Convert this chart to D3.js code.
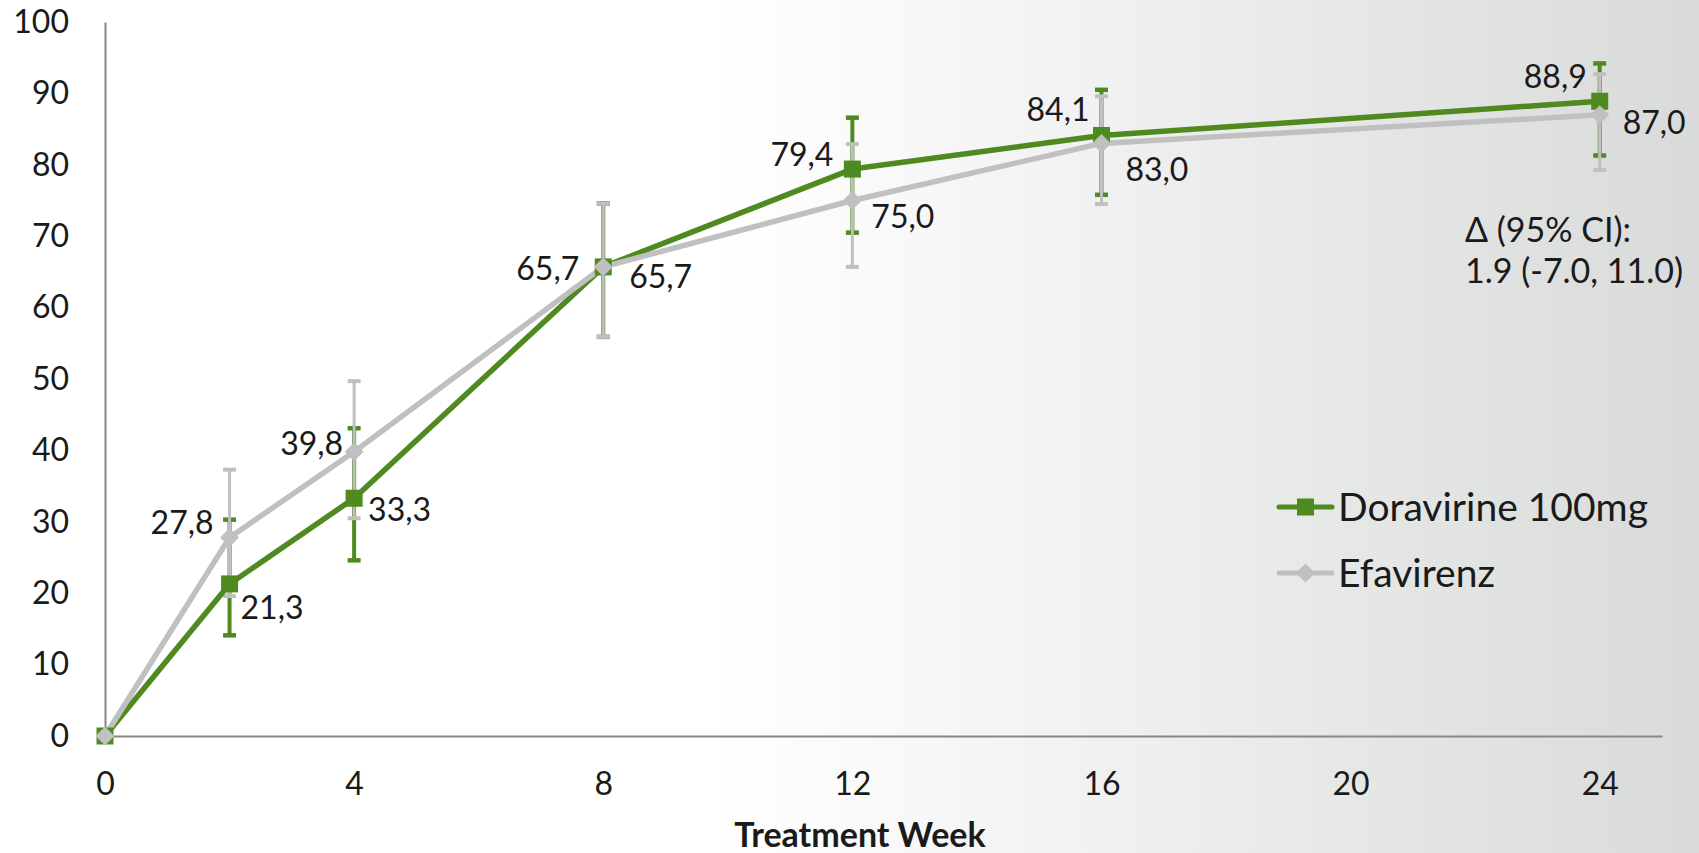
<!DOCTYPE html>
<html>
<head>
<meta charset="utf-8">
<script src="https://cdn.jsdelivr.net/npm/d3@7"></script>
<style>
  body { margin: 0; background: #ffffff; }
  svg { display: block; font-family: Lato, "Open Sans", "Liberation Sans", sans-serif; }
</style>
</head>
<body>
<svg id="chart" width="1699" height="853"></svg>
<script>
// Response over time by treatment week (percent), with 95% confidence bars
const weeks = [0, 2, 4, 8, 12, 16, 24];
const doravirine = [0, 21.3, 33.3, 65.7, 79.4, 84.1, 88.9];
const doravirineLow = [null, 14.1, 24.6, 55.9, 70.5, 75.8, 81.3];
const doravirineHigh = [null, 30.3, 43.1, 74.6, 86.6, 90.5, 94.2];
const efavirenz = [0, 27.8, 39.8, 65.7, 75.0, 83.0, 87.0];
const efavirenzLow = [null, 19.6, 30.5, 55.9, 65.7, 74.5, 79.3];
const efavirenzHigh = [null, 37.3, 49.7, 74.6, 82.9, 89.6, 92.7];
const xTicks = [0, 4, 8, 12, 16, 20, 24];
const yTicks = [0, 10, 20, 30, 40, 50, 60, 70, 80, 90, 100];
const seriesNames = ["Doravirine 100mg", "Efavirenz"];
const xTitle = "Treatment Week";
const noteLines = ["\u0394 (95% CI):", "1.9 (-7.0, 11.0)"];

// Where each value label sits relative to its point: [anchor, dx, dy]
const labelPlacement = [
  [null, ["start", 11, 24], ["start", 14, 11], ["end", -24, 2], ["end", -19, -15], ["end", -12, -26], ["end", -13, -25]],
  [null, ["end", -16, -15], ["end", -11, -8], ["start", 26, 10], ["start", 19, 16], ["start", 24, 26], ["start", 23, 8]]
];

const GREEN = "#4e8a1f";
const GREY = "#c0c0c0";
const INK = "#1a1a1a";
const AXIS = "#878787";

const series = [
  { name: seriesNames[0], values: doravirine, low: doravirineLow, high: doravirineHigh, color: GREEN, marker: "square", stem: 4, cap: 4.5 },
  { name: seriesNames[1], values: efavirenz, low: efavirenzLow, high: efavirenzHigh, color: GREY, marker: "diamond", stem: 3, cap: 4 }
];

const svg = d3.select("#chart");
const W = 1699, H = 853;

// Background: white on the left fading to a soft grey on the right
const defs = svg.append("defs");
const grad = defs.append("linearGradient").attr("id", "bg").attr("x1", "0").attr("x2", "1").attr("y1", "0").attr("y2", "0");
grad.append("stop").attr("offset", "0").attr("stop-color", "#ffffff");
grad.append("stop").attr("offset", "0.42").attr("stop-color", "#ffffff");
grad.append("stop").attr("offset", "1").attr("stop-color", "#d8dbd9");
svg.append("rect").attr("width", W).attr("height", H).attr("fill", "url(#bg)");

const x = d3.scaleLinear().domain([0, 25]).range([105, 1662]);
const y = d3.scaleLinear().domain([0, 100]).range([736, 22]);

// Axes
const yAxis = svg.append("g").attr("transform", `translate(${x(0)},0)`)
  .call(d3.axisLeft(y).tickValues(yTicks).tickSize(0).tickPadding(36).tickFormat(d3.format("d")));
const xAxis = svg.append("g").attr("transform", `translate(0,${y(0)})`)
  .call(d3.axisBottom(x).tickValues(xTicks).tickSize(0).tickPadding(36).tickFormat(d3.format("d")));
[xAxis, yAxis].forEach(g => {
  g.select(".domain").attr("stroke", AXIS).attr("stroke-width", 2);
  g.selectAll("text").attr("fill", INK).style("font-size", "32px").style("font-family", "Lato, sans-serif");
});

svg.append("text")
  .attr("x", 860).attr("y", 835).attr("dy", "0.36em")
  .attr("text-anchor", "middle")
  .attr("fill", INK)
  .style("font-size", "34px").style("font-weight", "700")
  .text(xTitle);

const pts = s => weeks.map((w, i) => ({ w, v: s.values[i], lo: s.low[i], hi: s.high[i], i }));

// Confidence bars
series.forEach(s => {
  const g = svg.append("g");
  const d = pts(s).filter(p => p.lo != null);
  g.selectAll("line.stem").data(d).join("line")
    .attr("x1", p => x(p.w)).attr("x2", p => x(p.w))
    .attr("y1", p => y(p.lo)).attr("y2", p => y(p.hi))
    .attr("stroke", s.color).attr("stroke-width", s.stem);
  ["lo", "hi"].forEach(k => {
    g.selectAll("line.cap-" + k).data(d).join("line")
      .attr("x1", p => x(p.w) - 6.5).attr("x2", p => x(p.w) + 6.5)
      .attr("y1", p => y(p[k])).attr("y2", p => y(p[k]))
      .attr("stroke", s.color).attr("stroke-width", s.cap);
  });
});

// Lines
const line = d3.line().x(p => x(p.w)).y(p => y(p.v));
series.forEach(s => {
  svg.append("path").datum(pts(s))
    .attr("d", line).attr("fill", "none")
    .attr("stroke", s.color).attr("stroke-width", 5.5)
    .attr("stroke-linejoin", "round");
});

// Markers
function markerPath(kind, cx, cy) {
  if (kind === "square") {
    const h = 8.5;
    return `M${cx - h},${cy - h}H${cx + h}V${cy + h}H${cx - h}Z`;
  }
  const r = 9.5;
  return `M${cx},${cy - r}L${cx + r},${cy}L${cx},${cy + r}L${cx - r},${cy}Z`;
}
series.forEach(s => {
  svg.append("g").selectAll("path").data(pts(s)).join("path")
    .attr("d", p => markerPath(s.marker, x(p.w), y(p.v)))
    .attr("fill", s.color);
});

// Value labels
const fmt = v => d3.format(".1f")(v).replace(".", ",");
series.forEach((s, si) => {
  svg.append("g").selectAll("text").data(pts(s).filter(p => labelPlacement[si][p.i])).join("text")
    .attr("x", p => x(p.w) + labelPlacement[si][p.i][1])
    .attr("y", p => y(p.v) + labelPlacement[si][p.i][2])
    .attr("dy", "0.36em")
    .attr("text-anchor", p => labelPlacement[si][p.i][0])
    .attr("fill", INK)
    .style("font-size", "32px")
    .text(p => fmt(p.v));
});

// Difference note
svg.append("g").selectAll("text").data(noteLines).join("text")
  .attr("x", 1465).attr("y", (d, i) => 230 + i * 41).attr("dy", "0.36em")
  .attr("fill", INK).style("font-size", "34px")
  .text(d => d);

// Legend
const legend = svg.append("g");
series.forEach((s, i) => {
  const ly = 507 + i * 66;
  const g = legend.append("g");
  g.append("line").attr("x1", 1279).attr("x2", 1332).attr("y1", ly).attr("y2", ly)
    .attr("stroke", s.color).attr("stroke-width", 5).attr("stroke-linecap", "round");
  g.append("path").attr("d", markerPath(s.marker, 1305.5, ly)).attr("fill", s.color);
  g.append("text").attr("x", 1338).attr("y", ly).attr("dy", "0.36em")
    .attr("fill", INK).style("font-size", "39px").text(s.name);
});
</script>
</body>
</html>
